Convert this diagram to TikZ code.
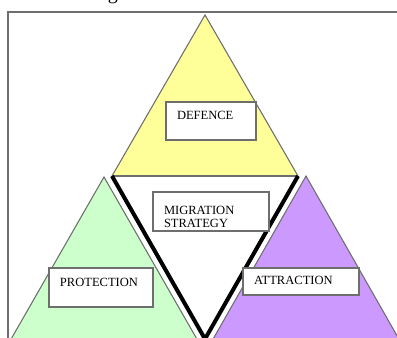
\documentclass[tikz,border=0pt]{standalone}
\usepackage{fontspec}
\setmainfont{Liberation Serif}
\definecolor{triyellow}{HTML}{FFFF99}
\definecolor{trigreen}{HTML}{CCFFCC}
\definecolor{tripurple}{HTML}{CC99FF}
\definecolor{edgegray}{HTML}{6E6E6E}
\begin{document}
\begin{tikzpicture}[x=0.75pt,y=-0.75pt,
  tri/.style={draw=edgegray, line width=0.8pt, line join=miter},
  vline/.style={draw=black, line width=3pt, line join=miter},
  frame/.style={draw=edgegray, line width=1.5pt},
  box/.style={draw=edgegray, line width=1pt, fill=white, inner xsep=8.25pt, inner ysep=0pt,
    align=left, font=\fontsize{9.4}{9.8}\selectfont, text height=6.6pt, text depth=2pt}]
\useasboundingbox (0,0) rectangle (397,337);
\clip (0,0) rectangle (397,337);
% partial heading text, cut by the top edge
\node[anchor=base west, inner sep=0pt, font=\fontsize{15}{18}\selectfont] (head) at (107.5,-0.5) {g};
% frame
\coordinate (fbl) at (8,345);
\coordinate (ftl) at (8,12);
\coordinate (ftr) at (400,12);
\draw[frame] (fbl) -- (ftl) -- (ftr);
% triangles
\coordinate (ya) at (205,15);
\coordinate (yl) at (112,176);
\coordinate (yr) at (298,176);
\coordinate (ga) at (104,177);
\coordinate (gl) at (9.4,342);
\coordinate (gr) at (198.6,342);
\coordinate (pa) at (306,176);
\coordinate (pl) at (211.4,342);
\coordinate (pr) at (400.6,342);
\coordinate (vb) at (205,339);
\filldraw[tri, fill=triyellow] (ya) -- (yl) -- (yr) -- cycle;
\filldraw[tri, fill=trigreen] (ga) -- (gl) -- (gr) -- cycle;
\filldraw[tri, fill=tripurple] (pa) -- (pl) -- (pr) -- cycle;
\fill[white] (yl) -- (yr) -- (vb) -- cycle;
\draw[tri] (yl) -- (yr);
\draw[vline] (yl) -- (vb) -- (yr);
% boxes
\node[box, minimum width=67.5pt, minimum height=28.5pt, text width=51pt, text depth=8.8pt] (def) at (211,121) {DEFENCE};
\node[box, minimum width=87pt, minimum height=29.25pt, text width=70.5pt, text height=6.6pt, text depth=2pt] (mig) at (211,211.5) {MIGRATION\\STRATEGY};
\node[box, minimum width=78pt, minimum height=29.25pt, text width=61.5pt, text depth=8.8pt] (pro) at (101,287.5) {PROTECTION};
\node[box, minimum width=87pt, minimum height=20.25pt, text width=70.5pt] (att) at (301,281.5) {ATTRACTION};
\end{tikzpicture}
\end{document}
